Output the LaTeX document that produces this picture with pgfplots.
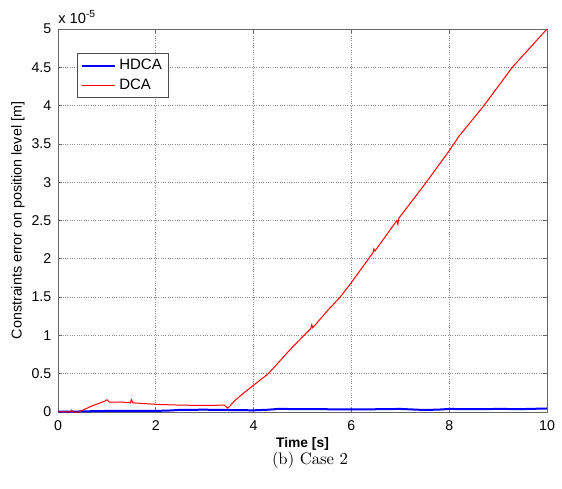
\documentclass[border=0pt]{standalone}
\usepackage{fontspec}
\setsansfont{Liberation Sans}
\usepackage{pgfplots}
\pgfplotsset{compat=1.18}
\begin{document}
\begin{tikzpicture}
\begin{axis}[
  at={(34.8pt,45.6pt)}, anchor=south west,
  scale only axis, width=293.4pt, height=229.8pt,
  xmin=0, xmax=10, ymin=0, ymax=5,
  xtick={0,2,4,6,8,10}, ytick={0,0.5,1,1.5,2,2.5,3,3.5,4,4.5,5},
  yticklabels={0,0.5,1,1.5,2,2.5,3,3.5,4,4.5,5},
  xticklabels={0,2,4,6,8,10},
  tick align=inside, tick pos=both,
  major tick length=2.4pt,
  axis line style={draw=black!60, line width=0.5pt},
  every tick/.style={black!60, line width=0.4pt},
  grid=major,
  major grid style={densely dotted, black!45, line width=0.4pt},
  /pgf/number format/assume math mode=true,
  ticklabel style={font=\sffamily\fontsize{8.5}{9}\selectfont},
  xticklabel style={yshift=-1.5pt},
  yticklabel style={xshift=-0.5pt},
  xlabel={Time [s]},
  ylabel={Constraints error on position level [m]},
  xlabel style={at={(axis description cs:0.5,-0.083)}, anchor=center, font=\sffamily\bfseries\fontsize{8.3}{9}\selectfont},
  ylabel style={at={(axis description cs:-0.082,0.5)}, anchor=center, font=\sffamily\fontsize{8.6}{9}\selectfont},
  legend style={at={(axis description cs:0.039,0.937)}, anchor=north west,
    font=\sffamily\fontsize{9}{10}\selectfont, draw=black!70, line width=0.4pt,
    inner xsep=2pt, inner ysep=1.5pt, row sep=0pt},
  legend cell align=left,
  legend image code/.code={\draw[#1] (0cm,0cm) -- (0.7cm,0cm);},
  clip=false,
]
\addplot[blue, line width=1.2pt] coordinates {
(0,0.004) (0.3,0.004) (0.5,0.008) (1.0,0.014) (1.5,0.015) (2.0,0.014) (2.3,0.02) (2.5,0.028) (3.0,0.03) (3.5,0.026) (4.0,0.022) (4.3,0.03) (4.5,0.04) (5.0,0.038) (5.5,0.036) (6.0,0.035) (6.5,0.036) (7.0,0.04) (7.5,0.026) (7.8,0.032) (8.0,0.04) (8.5,0.036) (9.0,0.04) (9.5,0.038) (10,0.046)
};
\addlegendentry{HDCA}
\addplot[red, line width=0.6pt] coordinates {
(0,0) (0.25,0.002) (0.28,0.025) (0.31,0.0) (0.42,0.0) (0.7,0.08) (0.95,0.14) (1.0,0.16) (1.05,0.13) (1.3,0.13) (1.48,0.12) (1.5,0.16) (1.53,0.12) (2.0,0.10) (2.5,0.09) (3.0,0.085) (3.4,0.09) (3.47,0.05) (3.52,0.08) (3.6,0.14) (3.8,0.25) (4.0,0.35) (4.3,0.5) (4.5,0.64) (4.74,0.81) (5.03,1.0) (5.17,1.09) (5.19,1.14) (5.21,1.1) (5.52,1.33) (5.77,1.5) (6.0,1.69) (6.35,2.0) (6.44,2.08) (6.46,2.13) (6.48,2.1) (6.93,2.5) (6.95,2.45) (6.97,2.53) (7.52,2.99) (8.0,3.41) (8.2,3.6) (8.71,4.0) (9.29,4.5) (10,5.0)
};
\addlegendentry{DCA}
\node[anchor=south west, inner sep=0pt, font=\sffamily\fontsize{8.8}{9}\selectfont] at (axis description cs:0.0,1.012) {x 10\textsuperscript{-5}};
\end{axis}
\node[font=\fontsize{10}{12}\selectfont] at (186pt,16.8pt) {(b) Case 2};
\pgfresetboundingbox
\path[use as bounding box] (0,0) rectangle (337.2pt,292.8pt);
\end{tikzpicture}
\end{document}
